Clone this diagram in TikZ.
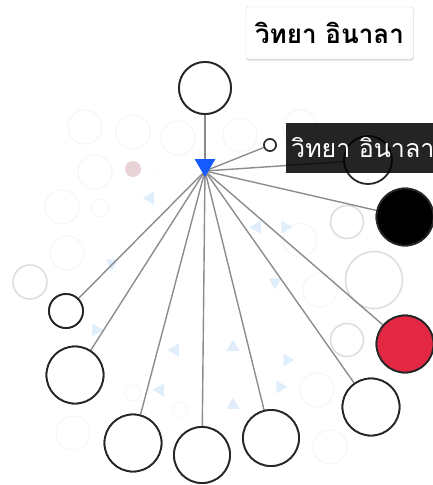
\documentclass[tikz,border=0pt]{standalone}
\usepackage{fontspec}
\newfontfamily\thai[Script=Thai]{Loma}
\usetikzlibrary{shapes.geometric,shadows}
\definecolor{hubblue}{RGB}{20,90,255}
\definecolor{redfill}{RGB}{226,40,67}
\definecolor{linegray}{RGB}{140,140,140}
\definecolor{faint}{RGB}{246,246,246}
\definecolor{ghost}{RGB}{222,222,222}
\definecolor{paleblue}{RGB}{224,238,252}
\definecolor{palepink}{RGB}{232,210,214}
\tikzset{
  person/.style={circle,draw=black!85,line width=1.8pt,fill=white,inner sep=0pt},
  faintc/.style={circle,draw=faint,line width=1.2pt,inner sep=0pt,minimum size=34pt},
  ghostc/.style={circle,draw=ghost,line width=1.6pt,inner sep=0pt},
  tri/.style={regular polygon,regular polygon sides=3,fill=paleblue,inner sep=0pt,minimum size=15pt},
  link/.style={draw=linegray,line width=1.4pt},
}
\begin{document}
\begin{tikzpicture}[x=1pt,y=-1pt]
\useasboundingbox (0,0) rectangle (433,485);
\clip (0,0) rectangle (433,485);
% faint background circles
\node[faintc] (f1) at (85,127) {};
\node[faintc] (f2) at (133,132) {};
\node[faintc] (f3) at (178,138) {};
\node[faintc] (f4) at (95,172) {};
\node[faintc] (f5) at (62,207) {};
\node[faintc,minimum size=18pt] (f6) at (100,208) {};
\node[faintc] (f7) at (67,253) {};
\node[faintc] (f8) at (300,127) {};
\node[faintc] (f9) at (240,135) {};
\node[faintc] (f10) at (317,390) {};
\node[faintc] (f11) at (330,447) {};
\node[faintc] (f12) at (73,433) {};
\node[faintc,minimum size=16pt] (f13) at (180,410) {};
\node[faintc,minimum size=16pt] (f14) at (133,393) {};
\node[faintc] (f15) at (320,290) {};
\node[faintc] (f16) at (300,240) {};
% pale triangles
\node[tri,rotate=90] (t1) at (150,198) {};
\node[tri,rotate=90,draw=faint,fill=none] (t0) at (158,172) {};
\node[tri,rotate=180] (t2) at (112,263) {};
\node[tri,rotate=150] (t3) at (96,330) {};
\node[tri,rotate=90] (t4) at (175,350) {};
\node[tri,rotate=90] (t5) at (160,390) {};
\node[tri] (t6) at (233,347) {};
\node[tri] (t7) at (233,405) {};
\node[tri,rotate=-90] (t8) at (287,360) {};
\node[tri,rotate=-90] (t9) at (280,387) {};
\node[tri,rotate=-30] (t10) at (257,227) {};
\node[tri,rotate=30] (t11) at (285,227) {};
\node[tri,rotate=60] (t12) at (275,282) {};
% ghost circles
\node[ghostc,minimum size=34pt] (g1) at (30,282) {};
\node[ghostc,minimum size=33pt] (g2) at (347,222) {};
\node[ghostc,minimum size=57pt] (g3) at (374,280) {};
\node[ghostc,minimum size=33pt] (g4) at (347,340) {};
\node[circle,fill=palepink,inner sep=0pt,minimum size=16pt] (pink) at (133,169) {};
% hub
\coordinate (hub) at (205,171);
% people
\node[person,minimum size=52pt] (top) at (205,88) {};
\node[person,minimum size=12pt,line width=1.5pt] (small) at (270,145) {};
\node[person,minimum size=48pt,fill=none] (lab) at (368,160) {};
\node[person,minimum size=57pt,fill=black] (blk) at (405,217) {};
\node[person,minimum size=57pt,fill=redfill] (red) at (405,344) {};
\node[person,minimum size=57pt] (c1) at (371,407) {};
\node[person,minimum size=56pt] (c2) at (271,438) {};
\node[person,minimum size=56pt] (c3) at (202,455) {};
\node[person,minimum size=57pt] (c4) at (133,443) {};
\node[person,minimum size=57pt] (c5) at (75,375) {};
\node[person,minimum size=34pt] (c6) at (66,311) {};
% links
\foreach \n in {top,small,lab,blk,red,c1,c2,c3,c4,c5,c6}
  \draw[link] (hub) -- (\n);
% redraw people over links
\node[person,minimum size=52pt] at (top) {};
\node[person,minimum size=12pt,line width=1.5pt] at (small) {};
\node[person,minimum size=57pt,fill=black] at (blk) {};
\node[person,minimum size=57pt,fill=redfill] at (red) {};
\node[person,minimum size=57pt] at (c1) {};
\node[person,minimum size=56pt] at (c2) {};
\node[person,minimum size=56pt] at (c3) {};
\node[person,minimum size=57pt] at (c4) {};
\node[person,minimum size=57pt] at (c5) {};
\node[person,minimum size=34pt] at (c6) {};
% hub triangle
\node[regular polygon,regular polygon sides=3,shape border rotate=180,fill=hubblue,inner sep=0pt,minimum size=24pt] (hubtri) at (205,165) {};
% dark label
\node[fill=black,fill opacity=0.86,text opacity=1,anchor=west,minimum height=50pt,inner xsep=5pt,text=white,font=\thai\fontsize{25}{28}\selectfont] (dark) at (286,148) {วิทยา อินาลา};
% top label
\node[fill=white,draw=black!15,rounded corners=2pt,drop shadow={opacity=0.3,shadow xshift=0.5pt,shadow yshift=-1.5pt},minimum width=167pt,minimum height=52pt,inner xsep=4pt,font=\thai\bfseries\fontsize{26}{29}\selectfont] (toplab) at (329.5,33) {วิทยา อินาลา};
\end{tikzpicture}
\end{document}
